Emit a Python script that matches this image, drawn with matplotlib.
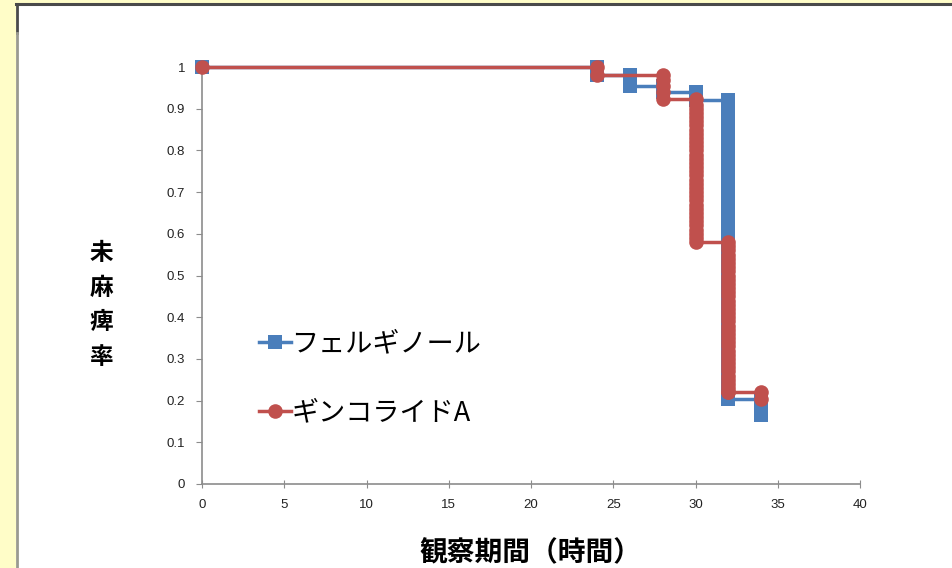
"""Survival-style step chart: unparalysed rate over observation time."""

import matplotlib
matplotlib.use("Agg")
import matplotlib.pyplot as plt
from matplotlib.patches import Rectangle
from matplotlib.lines import Line2D

plt.rcParams["font.family"] = ["Noto Sans CJK JP", "DejaVu Sans"]

# series: フェルギノール (blue squares)
blue_label = "フェルギノール"
blue_x = [0, 24, 24, 26, 26, 28, 28, 30, 30, 30,
          32, 32, 32, 32, 32, 32, 32, 32, 32, 32,
          32, 32, 32, 32, 32, 32, 32, 32, 32, 32,
          32, 32, 32, 32, 32, 32, 32, 32, 32, 32,
          32, 32, 32, 32, 32, 32, 32, 34, 34, 34]
blue_y = [1.0, 1.0, 0.98, 0.98, 0.955, 0.955, 0.94, 0.94, 0.93, 0.92,
          0.92, 0.90, 0.88, 0.86, 0.84, 0.82, 0.80, 0.78, 0.76, 0.74,
          0.72, 0.70, 0.68, 0.66, 0.64, 0.62, 0.60, 0.58, 0.56, 0.54,
          0.52, 0.50, 0.48, 0.46, 0.44, 0.42, 0.40, 0.38, 0.36, 0.34,
          0.32, 0.30, 0.28, 0.26, 0.24, 0.22, 0.205, 0.205, 0.185, 0.165]

# series: ギンコライドA (red circles)
red_label = "ギンコライドA"
red_x = [0, 24, 24, 28, 28, 28, 28, 28,
         30, 30, 30, 30, 30, 30, 30, 30, 30, 30, 30, 30, 30, 30, 30, 30, 30, 30,
         30, 30, 30, 30, 30, 30, 30, 30, 30, 30, 30, 30, 30, 30, 30, 30, 30,
         32, 32, 32, 32, 32, 32, 32, 32, 32, 32, 32, 32, 32, 32, 32, 32, 32, 32, 32,
         32, 32, 32, 32, 32, 32, 32, 32, 32, 32, 32, 32, 32, 32, 32, 32, 32, 32, 32,
         34, 34]
red_y = [1.0, 1.0, 0.982, 0.982, 0.97, 0.955, 0.94, 0.923,
         0.923, 0.91, 0.90, 0.89, 0.88, 0.87, 0.86, 0.85, 0.84, 0.83, 0.82, 0.81, 0.80, 0.79, 0.78, 0.77, 0.76, 0.75,
         0.74, 0.73, 0.72, 0.71, 0.70, 0.69, 0.68, 0.67, 0.66, 0.65, 0.64, 0.63, 0.62, 0.61, 0.60, 0.59, 0.58,
         0.58, 0.57, 0.56, 0.55, 0.54, 0.53, 0.52, 0.51, 0.50, 0.49, 0.48, 0.47, 0.46, 0.45, 0.44, 0.43, 0.42, 0.41, 0.40,
         0.39, 0.38, 0.37, 0.36, 0.35, 0.34, 0.33, 0.32, 0.31, 0.30, 0.29, 0.28, 0.27, 0.26, 0.25, 0.24, 0.23, 0.22, 0.22,
         0.22, 0.205]

x_ticks = [0, 5, 10, 15, 20, 25, 30, 35, 40]
y_ticks = [0, 0.1, 0.2, 0.3, 0.4, 0.5, 0.6, 0.7, 0.8, 0.9, 1]
y_tick_labels = ["0", "0.1", "0.2", "0.3", "0.4", "0.5", "0.6", "0.7", "0.8", "0.9", "1"]

BLUE = "#4A7EBB"
RED = "#C0504D"

fig = plt.figure(figsize=(9.52, 5.68), dpi=100)
fig.patch.set_facecolor("#FFFDC8")

# white slide panel with dark top / left edge
fig.patches.append(Rectangle((16 / 952, 0), 1, 1 - 4 / 568, transform=fig.transFigure,
                             facecolor="white", edgecolor="none", zorder=-10))
fig.add_artist(Line2D([16 / 952, 1], [1 - 4 / 568, 1 - 4 / 568], transform=fig.transFigure,
                      color="#4a4a4a", lw=2.2))
fig.add_artist(Line2D([16.5 / 952, 16.5 / 952], [1 - 4 / 568, 1 - 33 / 568], transform=fig.transFigure,
                      color="#4a4a4a", lw=2))
fig.add_artist(Line2D([16.5 / 952, 16.5 / 952], [0, 1 - 33 / 568], transform=fig.transFigure,
                      color="#9a9a90", lw=2))

ax = fig.add_axes([202 / 952, 1 - 484 / 568, 658 / 952, 417 / 568])
ax.set_zorder(2)
ax.set_facecolor("none")

ax.plot(blue_x, blue_y, color=BLUE, lw=2.5, marker="s", markersize=10,
        markeredgewidth=0, label=blue_label, clip_on=False, zorder=3)
ax.plot(red_x, red_y, color=RED, lw=2.5, marker="o", markersize=10.5,
        markeredgewidth=0, label=red_label, clip_on=False, zorder=4)

ax.set_xlim(0, 40)
ax.set_ylim(0, 1)
ax.set_xticks(x_ticks)
ax.set_yticks(y_ticks)
ax.set_yticklabels(y_tick_labels)

for side in ("top", "right"):
    ax.spines[side].set_visible(False)
for side in ("left", "bottom"):
    ax.spines[side].set_color("#8c8c8c")
    ax.spines[side].set_linewidth(1.2)

ax.tick_params(axis="y", direction="out", length=4, color="#8c8c8c",
               labelsize=9.5, pad=8, labelcolor="#222222")
ax.tick_params(axis="x", direction="inout", length=6, color="#8c8c8c",
               labelsize=9.5, pad=8, labelcolor="#222222")
for lab in ax.get_xticklabels() + ax.get_yticklabels():
    lab.set_family(["Liberation Sans", "DejaVu Sans"])

# vertical stacked y label
fig.text(101 / 952, 1 - 305 / 568, "未\n麻\n痺\n率", ha="center", va="center",
         fontsize=17, fontweight="bold", linespacing=1.55)
fig.text(530 / 952, 1 - 553 / 568, "観察期間（時間）", ha="center", va="center",
         fontsize=20, fontweight="bold")

leg = ax.legend(loc="upper left", bbox_to_anchor=(0.066, 0.40), frameon=False,
                fontsize=19.5, handlelength=1.2, handletextpad=0.0,
                labelspacing=1.55, borderpad=0)

fig.savefig("out.png", dpi=100, facecolor=fig.get_facecolor())
